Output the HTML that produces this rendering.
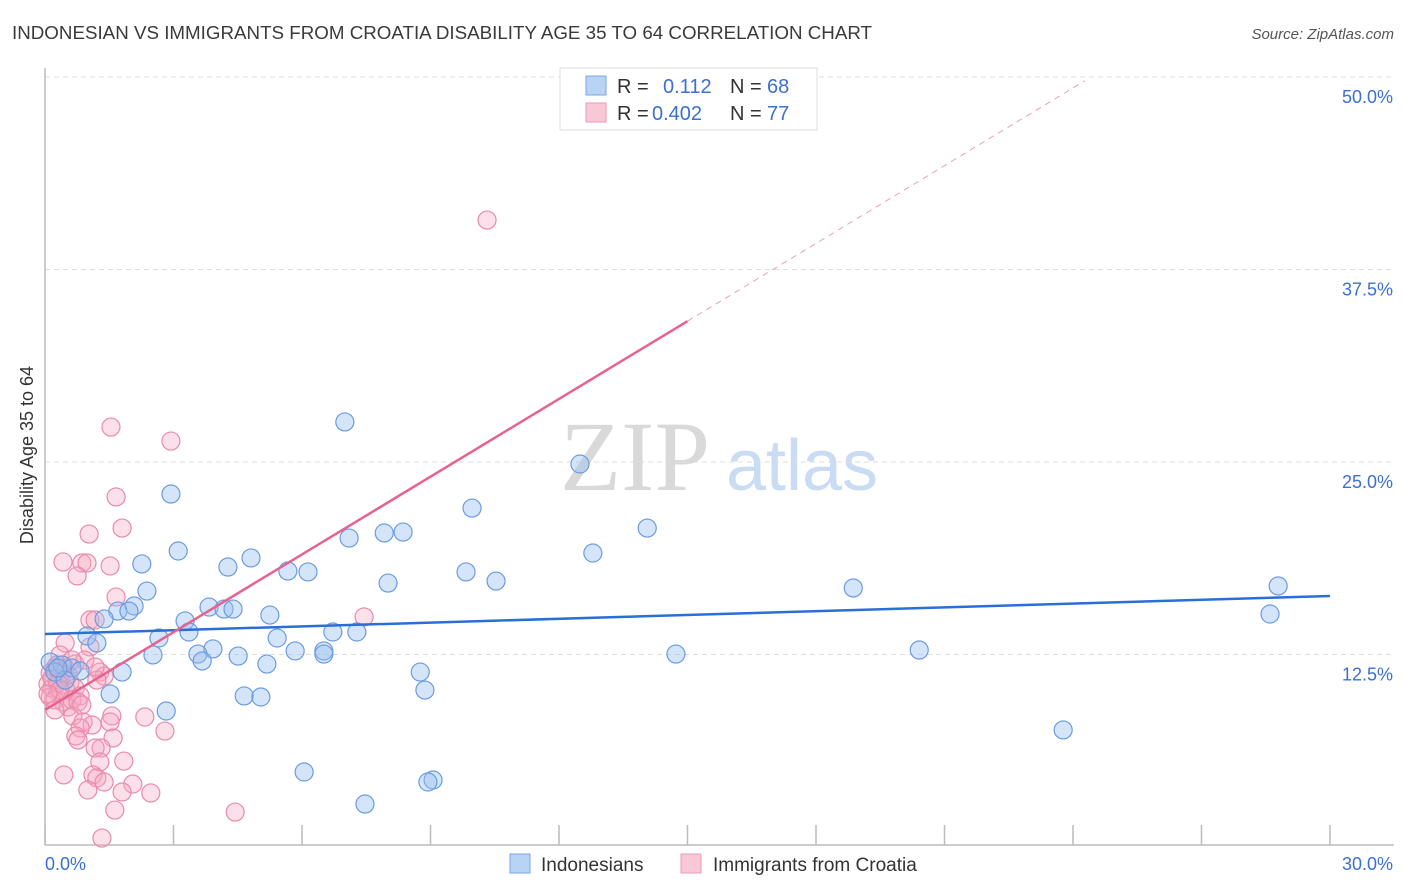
<!DOCTYPE html>
<html><head><meta charset="utf-8"><style>
body{margin:0;background:#fff;font-family:"Liberation Sans",sans-serif}
svg{display:block}
</style></head><body>
<svg id="chart" width="1406" height="892" xmlns="http://www.w3.org/2000/svg" font-family="Liberation Sans, sans-serif">
<text x="12" y="39" font-size="18" fill="#3a3a3a" textLength="860" lengthAdjust="spacingAndGlyphs">INDONESIAN VS IMMIGRANTS FROM CROATIA DISABILITY AGE 35 TO 64 CORRELATION CHART</text>
<text x="1394" y="39" font-size="15" fill="#555" text-anchor="end" font-style="italic">Source: ZipAtlas.com</text>
<g>
<text x="635" y="490" font-size="100" font-family="Liberation Serif, serif" fill="#d9d9d9" text-anchor="middle">ZIP</text>
<text x="802" y="490" font-size="72" fill="#c9dcf3" text-anchor="middle">atlas</text>
</g>
<g id="grid"></g>
<g id="axes"></g>
<g id="pts"></g>
<g id="trend"></g>
<text transform="translate(33,455) rotate(-90)" font-size="18" fill="#333" text-anchor="middle">Disability Age 35 to 64</text>
<g>
<rect x="560" y="68" width="257" height="62" fill="#fff" stroke="#ddd"/>
<rect x="586" y="76" width="20" height="19" fill="#b9d3f5" stroke="#7aa6e6"/>
<rect x="586" y="103" width="20" height="19" fill="#f9c8d7" stroke="#ec9ab5"/>
<text x="617" y="93" font-size="20" fill="#333">R =</text>
<text x="663" y="93" font-size="20" fill="#3b6fd4">0.112</text>
<text x="730" y="93" font-size="20" fill="#333">N =</text>
<text x="767" y="93" font-size="20" fill="#3b6fd4">68</text>
<text x="617" y="120" font-size="20" fill="#333">R =</text>
<text x="652" y="120" font-size="20" fill="#3b6fd4">0.402</text>
<text x="730" y="120" font-size="20" fill="#333">N =</text>
<text x="767" y="120" font-size="20" fill="#3b6fd4">77</text>
</g>
<g>
<rect x="510" y="854" width="20" height="19" fill="#b9d3f5" stroke="#7aa6e6"/>
<text x="541" y="871" font-size="19" fill="#333">Indonesians</text>
<rect x="681" y="854" width="20" height="19" fill="#f9c8d7" stroke="#ec9ab5"/>
<text x="713" y="871" font-size="19" fill="#333">Immigrants from Croatia</text>
</g>
</svg>
<script>
const yTicks=[12.5,25,37.5,50];
const yTickLabels=["12.5%","25.0%","37.5%","50.0%"];
const xTicks=[0,3,6,9,12,15,18,21,24,27,30];
const blueX=[7.00,12.49,2.94,9.97,14.06,7.92,8.36,7.10,3.11,12.79,4.81,2.26,4.27,5.67,6.14,9.83,10.53,8.01,18.87,28.79,2.38,2.08,1.70,1.96,3.83,4.18,4.39,5.25,28.60,1.38,3.27,3.36,6.72,7.28,0.98,2.66,5.42,1.21,3.92,5.84,6.51,6.51,3.57,2.52,4.51,14.73,20.41,3.67,5.18,0.12,0.40,0.63,0.82,1.80,8.76,1.52,4.65,5.04,8.87,2.83,23.77,6.05,9.06,8.94,7.47,0.23,0.47,0.30];
const blueY=[27.60,24.87,22.92,22.01,20.71,20.39,20.45,20.06,19.22,19.09,18.77,18.38,18.18,17.92,17.86,17.86,17.27,17.14,16.82,16.95,16.62,15.65,15.32,15.32,15.58,15.45,15.45,15.06,15.13,14.81,14.68,13.96,13.96,13.96,13.70,13.57,13.57,13.25,12.86,12.73,12.73,12.53,12.53,12.47,12.40,12.53,12.79,12.08,11.88,12.01,11.82,11.62,11.43,11.36,11.36,9.94,9.81,9.74,10.19,8.83,7.60,4.87,4.35,4.22,2.79,11.36,10.84,11.62];
const pinkX=[10.32,1.54,2.94,1.66,1.80,1.03,0.42,0.86,0.98,1.52,0.75,1.66,7.45,1.05,1.17,0.47,1.05,0.35,0.70,0.23,0.47,0.12,1.28,1.38,1.21,0.35,0.58,0.07,0.16,0.49,0.30,0.70,0.82,0.12,0.23,0.42,0.54,0.63,0.77,0.23,0.65,1.56,2.33,0.89,1.10,1.52,0.82,2.80,0.72,1.59,0.77,1.31,1.17,1.84,1.28,0.44,1.12,1.21,1.38,2.05,1.00,1.80,2.47,1.63,4.44,1.33,0.28,0.40,0.54,0.16,0.30,0.93,0.63,1.17,0.35,0.07,0.86];
const pinkY=[40.71,27.27,26.36,22.73,20.71,20.32,18.51,18.44,18.44,18.25,17.60,16.23,14.94,14.74,14.74,13.25,12.99,12.47,11.88,11.62,11.62,11.30,11.36,11.10,10.84,10.84,10.71,10.58,10.32,10.19,10.06,10.32,9.81,9.74,9.55,9.42,9.09,9.55,9.42,8.90,8.51,8.51,8.44,8.12,7.92,8.12,7.73,7.53,7.21,7.08,6.95,6.43,6.43,5.58,5.52,4.68,4.68,4.48,4.22,4.09,3.70,3.57,3.51,2.40,2.27,0.58,11.82,11.36,11.17,10.97,10.65,12.14,12.14,11.69,10.19,9.94,9.22];
const blueTrend=[13.83,16.30];
const pinkTrend=[8.9,1.683];
const NS="http://www.w3.org/2000/svg";
const X=v=>45+v/30*1285;
const Y=v=>847-v/12.5*192.5;
function mk(parent,tag,attrs){const e=document.createElementNS(NS,tag);for(const k in attrs)e.setAttribute(k,attrs[k]);document.getElementById(parent).appendChild(e);return e;}
yTicks.forEach((t,i)=>{
 const l=mk('grid','line',{x1:45,x2:1394,y1:Y(t),y2:Y(t),stroke:'#ddd','stroke-dasharray':'5,4'});
 
 
 const tx=mk('grid','text',{x:1393,y:Y(t)+26,'font-size':18,fill:'#3b6fd4','text-anchor':'end'});
 tx.textContent=yTickLabels[i];
 
 
});
mk('axes','line',{x1:45,x2:45,y1:68,y2:845,stroke:'#bbb','stroke-width':1.5});
mk('axes','line',{x1:45,x2:1394,y1:845,y2:845,stroke:'#bbb','stroke-width':1.5});
xTicks.forEach(t=>{
 const l=mk('axes','line',{x1:X(t),x2:X(t),y1:825,y2:845,stroke:'#bbb','stroke-width':1.5});
 
 
});
const xl0=mk('axes','text',{x:45,y:870,'font-size':18,fill:'#3b6fd4'});xl0.textContent='0.0%';


const xl1=mk('axes','text',{x:1393,y:870,'font-size':18,fill:'#3b6fd4','text-anchor':'end'});xl1.textContent='30.0%';


pinkX.forEach((x,i)=>{
 const c=mk('pts','circle',{cx:X(x),cy:Y(pinkY[i]),r:9,fill:'rgba(245,165,192,0.35)',stroke:'#e98aaa','stroke-width':1.2});
 
 
});
blueX.forEach((x,i)=>{
 const c=mk('pts','circle',{cx:X(x),cy:Y(blueY[i]),r:9,fill:'rgba(150,190,240,0.4)',stroke:'#6b9be0','stroke-width':1.2});
 
 
});
const bl=mk('trend','line',{x1:X(0),y1:Y(blueTrend[0]),x2:X(30),y2:Y(blueTrend[1]),stroke:'#2a6fd6','stroke-width':2.5});


const pl=mk('trend','line',{x1:X(0),y1:Y(pinkTrend[0]),x2:X(15),y2:Y(pinkTrend[0]+15*pinkTrend[1]),stroke:'#e8628f','stroke-width':2.5});


const pd=mk('trend','line',{x1:X(15),y1:Y(pinkTrend[0]+15*pinkTrend[1]),x2:X(24.28),y2:Y(pinkTrend[0]+24.28*pinkTrend[1]),stroke:'#eaa0b8','stroke-width':1,'stroke-dasharray':'6,5'});


</script>
</body></html>
